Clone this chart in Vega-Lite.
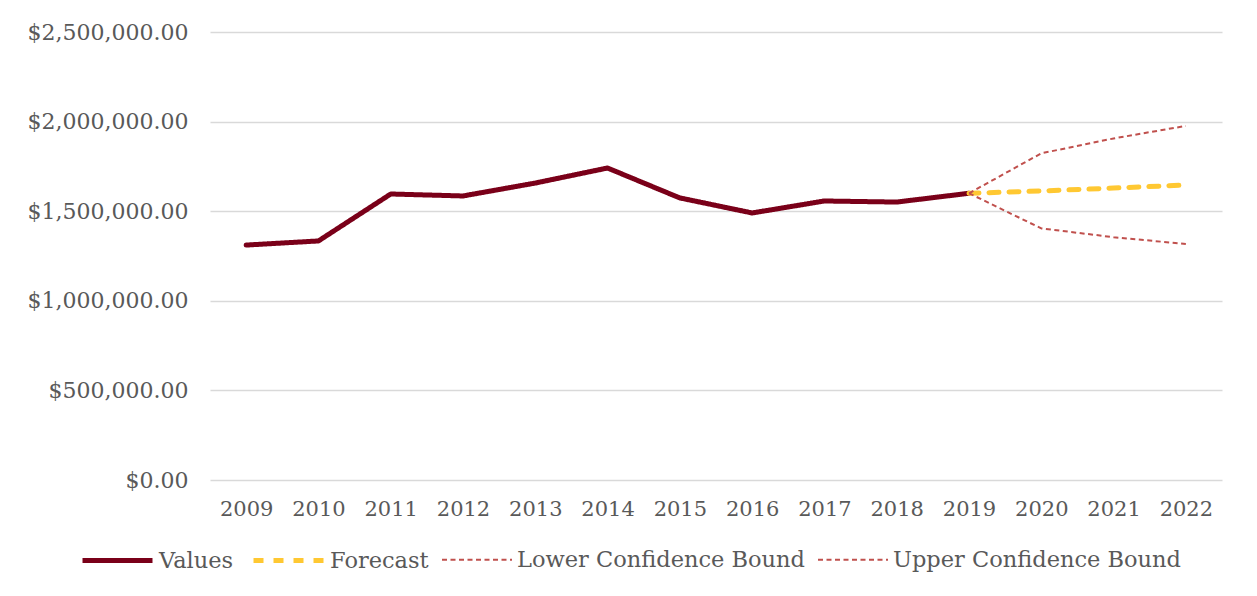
{
  "$schema": "https://vega.github.io/schema/vega-lite/v6.json",
  "autosize": {"type": "none"},
  "width": 1012,
  "height": 448,
  "padding": {"left": 210, "top": 32, "right": 35, "bottom": 116},
  "background": "white",
  "data": {
    "values": [
      {"year": "2009", "series": "Values", "value": 1311000},
      {"year": "2010", "series": "Values", "value": 1334000},
      {"year": "2011", "series": "Values", "value": 1596000},
      {"year": "2012", "series": "Values", "value": 1585000},
      {"year": "2013", "series": "Values", "value": 1657000},
      {"year": "2014", "series": "Values", "value": 1741000},
      {"year": "2015", "series": "Values", "value": 1574000},
      {"year": "2016", "series": "Values", "value": 1490000},
      {"year": "2017", "series": "Values", "value": 1557000},
      {"year": "2018", "series": "Values", "value": 1551000},
      {"year": "2019", "series": "Values", "value": 1600000},
      {"year": "2019", "series": "Forecast", "value": 1600000},
      {"year": "2020", "series": "Forecast", "value": 1613000},
      {"year": "2021", "series": "Forecast", "value": 1629000},
      {"year": "2022", "series": "Forecast", "value": 1646000},
      {"year": "2019", "series": "Lower Confidence Bound", "value": 1600000},
      {"year": "2020", "series": "Lower Confidence Bound", "value": 1404000},
      {"year": "2021", "series": "Lower Confidence Bound", "value": 1355000},
      {"year": "2022", "series": "Lower Confidence Bound", "value": 1317000},
      {"year": "2019", "series": "Upper Confidence Bound", "value": 1600000},
      {"year": "2020", "series": "Upper Confidence Bound", "value": 1823000},
      {"year": "2021", "series": "Upper Confidence Bound", "value": 1906000},
      {"year": "2022", "series": "Upper Confidence Bound", "value": 1976000}
    ]
  },
  "encoding": {
    "x": {
      "field": "year",
      "type": "ordinal",
      "scale": {"padding": 0.5},
      "axis": {
        "title": null,
        "labelAngle": 0,
        "ticks": false,
        "domain": false,
        "grid": false,
        "labelPadding": 18,
        "labelFont": "DejaVu Serif",
        "labelFontSize": 21,
        "labelColor": "#595959"
      }
    },
    "y": {
      "field": "value",
      "type": "quantitative",
      "scale": {"domain": [0, 2500000], "nice": false},
      "axis": {
        "title": null,
        "values": [0, 500000, 1000000, 1500000, 2000000, 2500000],
        "format": "$,.2f",
        "ticks": false,
        "domain": false,
        "grid": true,
        "gridColor": "#D9D9D9",
        "gridWidth": 1.5,
        "labelPadding": 22,
        "labelFont": "DejaVu Serif",
        "labelFontSize": 22,
        "labelColor": "#595959"
      }
    },
    "color": {
      "field": "series",
      "type": "nominal",
      "scale": {
        "domain": ["Values", "Forecast", "Lower Confidence Bound", "Upper Confidence Bound"],
        "range": ["#7A0019", "#FFC832", "#C0504D", "#C0504D"]
      },
      "legend": {
        "title": null,
        "orient": "none",
        "direction": "horizontal",
        "legendX": -130,
        "legendY": 491,
        "symbolType": "stroke",
        "symbolSize": 4900,
        "labelOffset": 4,
        "columnPadding": 9,
        "labelFont": "DejaVu Serif",
        "labelFontSize": 22.5,
        "labelColor": "#595959",
        "labelLimit": 400
      }
    },
    "strokeDash": {
      "field": "series",
      "type": "nominal",
      "scale": {
        "domain": ["Values", "Forecast", "Lower Confidence Bound", "Upper Confidence Bound"],
        "range": [[1, 0], [10, 10], [5, 3.5], [5, 3.5]]
      },
      "legend": null
    },
    "strokeWidth": {
      "field": "series",
      "type": "nominal",
      "scale": {
        "type": "ordinal",
        "domain": ["Values", "Forecast", "Lower Confidence Bound", "Upper Confidence Bound"],
        "range": [5, 5, 2, 2]
      },
      "legend": null
    }
  },
  "layer": [
    {
      "transform": [{"filter": "datum.series === 'Values' || datum.series === 'Forecast'"}],
      "mark": {"type": "line", "strokeCap": "round", "strokeJoin": "round"}
    },
    {
      "transform": [{"filter": "datum.series !== 'Values' && datum.series !== 'Forecast'"}],
      "mark": {"type": "line", "strokeCap": "butt", "strokeJoin": "round"}
    }
  ],
  "config": {
    "view": {"stroke": null}
  }
}
